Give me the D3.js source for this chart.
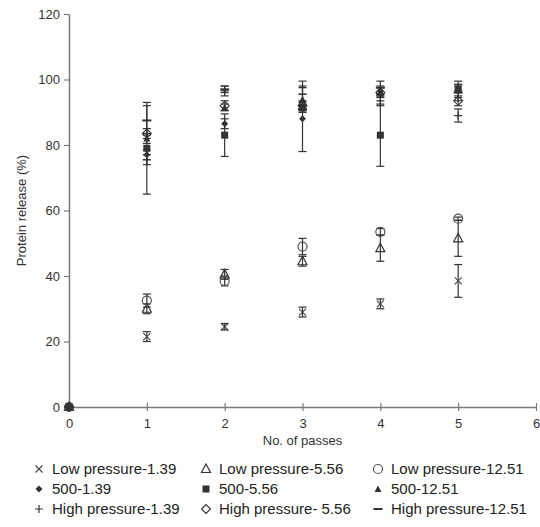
<!DOCTYPE html>
<html>
<head>
<meta charset="utf-8">
<script src="https://cdn.jsdelivr.net/npm/d3@7"></script>
<style>
  body { margin: 0; background: #fff; }
  svg { font-family: "Liberation Sans", Arial, sans-serif; }
</style>
</head>
<body>
<div id="chart"></div>
<script>
// Data
const passes = [0, 1, 2, 3, 4, 5];
const xTicks = [0, 1, 2, 3, 4, 5, 6];
const yTicks = [0, 20, 40, 60, 80, 100, 120];

const seriesNames = [
  "Low pressure-1.39", "Low pressure-5.56", "Low pressure-12.51",
  "500-1.39", "500-5.56", "500-12.51",
  "High pressure-1.39", "High pressure- 5.56", "High pressure-12.51"
];

const lowP139   = [0, 21.5, 24.5, 29, 31.5, 38.5];
const lowP556   = [0, 30, 40.5, 44.5, 48.5, 51.5];
const lowP1251  = [0, 32.5, 38.5, 49, 53.5, 57.5];
const mid139    = [0, 77, 86.5, 88, 96.5, 97];
const mid556    = [0, 79, 83, 91.5, 83, 97];
const mid1251   = [0, 82, 91.5, 94, 96.5, 97.5];
const highP139  = [0, 75.5, 96.5, 97.5, 93.5, 89];
const highP556  = [0, 83.5, 92, 92, 96, 93.5];
const highP1251 = [0, 87.5, 97, 91, 97.5, 96];

const lowP139Err   = [0, 1.5, 1, 1.5, 1.5, 5];
const lowP556Err   = [0, 1.5, 1.5, 1.5, 4, 5.5];
const lowP1251Err  = [0, 2, 1.5, 2.5, 1, 0.5];
const mid139Err    = [0, 1.5, 1.5, 10, 1.5, 1];
const mid556Err    = [0, 14, 6.5, 1.5, 9.5, 2.5];
const mid1251Err   = [0, 1.5, 1, 1.5, 1, 1];
const highP139Err  = [0, 1.5, 1.5, 2, 1.5, 2];
const highP556Err  = [0, 1.5, 1.5, 1.5, 1.5, 1.5];
const highP1251Err = [0, 4.5, 1, 1, 2, 2.5];

const values = [lowP139, lowP556, lowP1251, mid139, mid556, mid1251, highP139, highP556, highP1251];
const errors = [lowP139Err, lowP556Err, lowP1251Err, mid139Err, mid556Err, mid1251Err, highP139Err, highP556Err, highP1251Err];

// marker shapes, one per series (same order as names)
const markers = ["x", "triangleOpen", "circleOpen", "diamondSmall", "square", "triangleSmall", "plus", "diamondOpen", "dash"];

const width = 540, height = 527;
const svg = d3.select("#chart").append("svg")
  .attr("width", width)
  .attr("height", height);

const x = d3.scaleLinear().domain([0, 6]).range([69, 536]);
const y = d3.scaleLinear().domain([0, 120]).range([407, 14]);

const axisColor = "#7a7a7a";
const ink = "#333";

// axes
const xAxis = svg.append("g")
  .attr("transform", `translate(0,${y(0)})`)
  .call(d3.axisBottom(x).tickValues(xTicks).tickFormat(d3.format("d"))
    .tickSize(4).tickSizeOuter(0).tickPadding(8));
xAxis.selectAll(".tick line").attr("y1", -4);

const yAxis = svg.append("g")
  .attr("transform", `translate(${x(0)},0)`)
  .call(d3.axisLeft(y).tickValues(yTicks).tickFormat(d3.format("d"))
    .tickSize(5).tickSizeOuter(0).tickPadding(4));

[xAxis, yAxis].forEach(a => {
  a.select(".domain").attr("stroke", axisColor).attr("stroke-width", 1.5);
  a.selectAll(".tick line").attr("stroke", axisColor).attr("stroke-width", 1.2);
  a.selectAll(".tick text").attr("fill", "#333").style("font-size", "13px")
    .style("font-family", "'Liberation Sans', Arial, sans-serif");
});

svg.append("text")
  .attr("x", (x(0) + x(6)) / 2)
  .attr("y", 445)
  .attr("text-anchor", "middle")
  .attr("fill", "#333")
  .style("font-size", "13px")
  .text("No. of passes");

svg.append("text")
  .attr("transform", "rotate(-90)")
  .attr("x", -(y(0) + y(120)) / 2)
  .attr("y", 26)
  .attr("text-anchor", "middle")
  .attr("fill", "#333")
  .style("font-size", "13px")
  .text("Protein release (%)");

// marker drawing
function drawMarker(g, type) {
  switch (type) {
    case "x":
      g.append("path").attr("d", "M-3.5,-3.5L3.5,3.5M-3.5,3.5L3.5,-3.5")
        .attr("stroke", "#444").attr("stroke-width", 1.1).attr("fill", "none");
      break;
    case "triangleOpen":
      g.append("path").attr("d", "M0,-5L4.5,3.5L-4.5,3.5Z")
        .attr("stroke", ink).attr("stroke-width", 1.2).attr("fill", "none");
      break;
    case "circleOpen":
      g.append("circle").attr("r", 4.5)
        .attr("stroke", "#555").attr("stroke-width", 1.2).attr("fill", "none");
      break;
    case "diamondSmall":
      g.append("path").attr("d", "M0,-3.5L3.5,0L0,3.5L-3.5,0Z").attr("fill", ink);
      break;
    case "square":
      g.append("rect").attr("x", -3.5).attr("y", -3.5).attr("width", 7).attr("height", 7).attr("fill", ink);
      break;
    case "triangleSmall":
      g.append("path").attr("d", "M0,-3.5L3.5,3L-3.5,3Z").attr("fill", ink);
      break;
    case "plus":
      g.append("path").attr("d", "M-4,0L4,0M0,-4L0,4")
        .attr("stroke", ink).attr("stroke-width", 1.2).attr("fill", "none");
      break;
    case "diamondOpen":
      g.append("path").attr("d", "M0,-4.5L4.5,0L0,4.5L-4.5,0Z")
        .attr("stroke", ink).attr("stroke-width", 1.1).attr("fill", "none");
      break;
    case "dash":
      g.append("path").attr("d", "M-4.5,0L4.5,0")
        .attr("stroke", ink).attr("stroke-width", 2).attr("fill", "none");
      break;
  }
}

// error bars
const capW = 4;
values.forEach((vals, i) => {
  const errs = errors[i];
  const bars = svg.append("g").attr("class", "err");
  passes.forEach((p, j) => {
    if (!errs[j]) return;
    const cx = x(p), lo = y(vals[j] - errs[j]), hi = y(vals[j] + errs[j]);
    bars.append("line").attr("x1", cx).attr("x2", cx).attr("y1", lo).attr("y2", hi);
    bars.append("line").attr("x1", cx - capW).attr("x2", cx + capW).attr("y1", lo).attr("y2", lo);
    bars.append("line").attr("x1", cx - capW).attr("x2", cx + capW).attr("y1", hi).attr("y2", hi);
  });
  bars.selectAll("line").attr("stroke", ink).attr("stroke-width", 1.2);
});

// points
values.forEach((vals, i) => {
  passes.forEach((p, j) => {
    const g = svg.append("g").attr("transform", `translate(${x(p)},${y(vals[j])})`);
    drawMarker(g, markers[i]);
  });
});

// legend
const legendCols = [39, 206, 378];
const legendRows = [469, 489, 509];
seriesNames.forEach((name, i) => {
  const cx = legendCols[i % 3], cy = legendRows[Math.floor(i / 3)];
  const g = svg.append("g").attr("transform", `translate(${cx},${cy})`);
  drawMarker(g, markers[i]);
  svg.append("text")
    .attr("x", cx + 13)
    .attr("y", cy)
    .attr("dy", "0.35em")
    .attr("fill", "#222")
    .style("font-size", "15px")
    .text(name);
});
</script>
</body>
</html>
